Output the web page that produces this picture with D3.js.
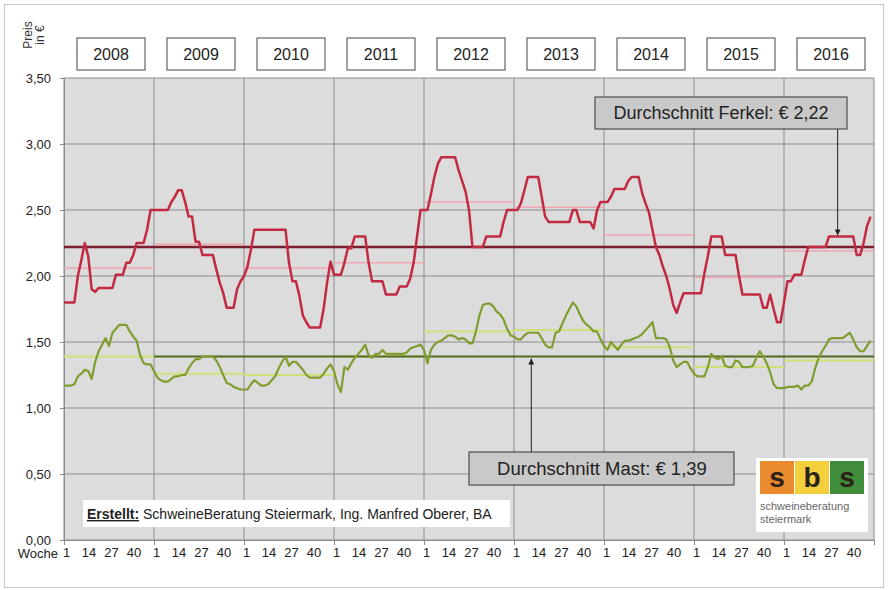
<!DOCTYPE html>
<html>
<head>
<meta charset="utf-8">
<script src="https://cdnjs.cloudflare.com/ajax/libs/d3/7.8.5/d3.min.js"></script>
<style>
  body { margin: 0; background: #fff; }
  svg { font-family: "Liberation Sans", Arial, sans-serif; }
</style>
</head>
<body>
<svg width="888" height="590"></svg>
<script>
// values, one row per year, every 2nd week (weeks 1,3,...,51)
var years = ['2008', '2009', '2010', '2011', '2012', '2013', '2014', '2015', '2016'];
var weekTicks = [1, 14, 27, 40];
var yTicks = [0, 0.5, 1, 1.5, 2, 2.5, 3, 3.5];

var ferkel = [
  [1.80,1.80,1.80,1.80,2.00,2.12,2.25,2.15,1.90,1.88,1.91,1.91,1.91,1.91,1.91,2.01,2.01,2.01,2.10,2.10,2.16,2.25,2.25,2.25,2.35,2.50],
  [2.50,2.50,2.50,2.50,2.50,2.56,2.60,2.65,2.65,2.56,2.45,2.45,2.26,2.26,2.16,2.16,2.16,2.16,2.05,1.95,1.87,1.76,1.76,1.76,1.90,1.96],
  [2.00,2.07,2.20,2.35,2.35,2.35,2.35,2.35,2.35,2.35,2.35,2.35,2.35,2.10,1.96,1.96,1.85,1.70,1.65,1.61,1.61,1.61,1.61,1.75,1.95,2.11],
  [2.01,2.01,2.01,2.10,2.21,2.21,2.30,2.30,2.30,2.30,2.10,1.96,1.96,1.96,1.96,1.86,1.86,1.86,1.86,1.92,1.92,1.92,1.98,2.10,2.30,2.50],
  [2.50,2.50,2.62,2.75,2.85,2.90,2.90,2.90,2.90,2.90,2.80,2.72,2.64,2.50,2.22,2.22,2.22,2.22,2.30,2.30,2.30,2.30,2.30,2.41,2.50,2.50],
  [2.50,2.50,2.55,2.65,2.75,2.75,2.75,2.75,2.60,2.45,2.41,2.41,2.41,2.41,2.41,2.41,2.41,2.50,2.50,2.41,2.41,2.41,2.41,2.36,2.50,2.56],
  [2.56,2.56,2.60,2.66,2.66,2.66,2.66,2.72,2.75,2.75,2.75,2.63,2.55,2.48,2.35,2.22,2.16,2.07,2.00,1.90,1.78,1.72,1.80,1.87,1.87,1.87],
  [1.87,1.87,1.87,2.02,2.15,2.30,2.30,2.30,2.30,2.16,2.16,2.16,2.16,2.00,1.86,1.86,1.86,1.86,1.86,1.86,1.76,1.76,1.86,1.75,1.65,1.65],
  [1.80,1.96,1.96,2.01,2.01,2.01,2.12,2.22,2.22,2.22,2.22,2.22,2.22,2.30,2.30,2.30,2.30,2.30,2.30,2.30,2.30,2.16,2.16,2.25,2.38,2.45]
];

var mast = [
  [1.17,1.17,1.17,1.18,1.24,1.26,1.29,1.28,1.22,1.35,1.43,1.48,1.53,1.47,1.57,1.60,1.63,1.63,1.63,1.58,1.54,1.51,1.40,1.34,1.33,1.33],
  [1.28,1.23,1.21,1.20,1.20,1.22,1.24,1.24,1.25,1.25,1.30,1.34,1.37,1.37,1.39,1.39,1.39,1.39,1.36,1.31,1.25,1.19,1.18,1.16,1.15,1.14],
  [1.14,1.14,1.18,1.21,1.19,1.17,1.17,1.18,1.21,1.24,1.30,1.35,1.39,1.32,1.35,1.35,1.32,1.29,1.25,1.23,1.23,1.23,1.23,1.26,1.30,1.33],
  [1.28,1.18,1.12,1.31,1.29,1.34,1.38,1.41,1.44,1.48,1.40,1.38,1.41,1.41,1.44,1.41,1.41,1.41,1.41,1.41,1.41,1.42,1.45,1.46,1.47,1.48],
  [1.44,1.34,1.44,1.48,1.50,1.51,1.53,1.55,1.55,1.54,1.52,1.53,1.52,1.49,1.49,1.58,1.70,1.78,1.79,1.79,1.77,1.73,1.71,1.67,1.60,1.55],
  [1.54,1.52,1.52,1.55,1.57,1.57,1.57,1.57,1.53,1.48,1.46,1.46,1.57,1.58,1.64,1.70,1.75,1.80,1.77,1.71,1.66,1.63,1.61,1.58,1.58,1.52],
  [1.47,1.44,1.50,1.47,1.44,1.48,1.51,1.51,1.52,1.53,1.54,1.56,1.59,1.62,1.65,1.53,1.53,1.53,1.52,1.46,1.36,1.31,1.33,1.35,1.35,1.30],
  [1.26,1.24,1.24,1.24,1.31,1.41,1.38,1.37,1.39,1.32,1.31,1.31,1.36,1.35,1.31,1.31,1.31,1.32,1.38,1.43,1.39,1.34,1.27,1.18,1.15,1.15],
  [1.15,1.16,1.16,1.16,1.17,1.14,1.17,1.17,1.20,1.30,1.38,1.43,1.47,1.52,1.53,1.53,1.53,1.53,1.55,1.57,1.52,1.46,1.43,1.43,1.47,1.51]
];

var ferkelYearAvg = [2.06, 2.24, 2.06, 2.10, 2.56, 2.52, 2.31, 1.99, 2.19];
var mastYearAvg = [1.39, 1.26, 1.25, 1.39, 1.58, 1.59, 1.46, 1.31, 1.36];
var ferkelAvg = 2.22;
var mastAvg = 1.39;

var weeksPerYear = 52;

var svg = d3.select('svg');

var x = d3.scaleLinear().domain([0, years.length * weeksPerYear]).range([64, 874]);
var y = d3.scaleLinear().domain([0, 3.5]).range([540, 78]);

function flatten(rows) {
  var out = [];
  rows.forEach(function (row, yi) {
    row.forEach(function (v, i) {
      out.push({ week: yi * weeksPerYear + i * 2, value: v });
    });
  });
  return out;
}

// outer frame
svg.append('rect')
  .attr('x', 4.5).attr('y', 4.5)
  .attr('width', 879).attr('height', 583)
  .style('fill', 'none')
  .style('stroke', '#c8c8c8');

// plot background
svg.append('rect')
  .attr('x', x(0)).attr('y', y(3.5))
  .attr('width', x.range()[1] - x(0))
  .attr('height', y(0) - y(3.5))
  .style('fill', '#dcdcdc');

// horizontal grid
svg.append('g')
  .selectAll('line')
  .data(yTicks)
  .join('line')
  .attr('x1', x(0)).attr('x2', x.range()[1])
  .attr('y1', function (d) { return y(d); })
  .attr('y2', function (d) { return y(d); })
  .style('stroke', '#8c8c8c')
  .style('stroke-width', 1);

// vertical year lines
var yearStarts = d3.range(years.length + 1).map(function (i) { return i * weeksPerYear; });
svg.append('g')
  .selectAll('line')
  .data(yearStarts)
  .join('line')
  .attr('x1', function (d) { return x(d); })
  .attr('x2', function (d) { return x(d); })
  .attr('y1', y(3.5)).attr('y2', y(0))
  .style('stroke', '#8c8c8c')
  .style('stroke-width', 1);

// y axis
var yAxis = svg.append('g')
  .attr('transform', 'translate(' + x(0) + ',0)')
  .call(d3.axisLeft(y).tickValues(yTicks).tickSize(4).tickPadding(9)
    .tickFormat(function (d) { return d3.format('.2f')(d).replace('.', ','); }));
yAxis.select('.domain').style('stroke', '#8c8c8c');
yAxis.selectAll('line').style('stroke', '#8c8c8c');
yAxis.selectAll('text').style('font-size', '13px').style('fill', '#222');

// x axis: year tick marks
var xYear = svg.append('g')
  .attr('transform', 'translate(0,' + y(0) + ')')
  .call(d3.axisBottom(x).tickValues(yearStarts).tickSize(5).tickFormat(''));
xYear.select('.domain').style('stroke', '#8c8c8c');
xYear.selectAll('line').style('stroke', '#8c8c8c');

// x axis: week labels
var weekVals = [];
years.forEach(function (yr, i) {
  weekTicks.forEach(function (w) { weekVals.push(i * weeksPerYear + w - 1); });
});
var xWeek = svg.append('g')
  .attr('transform', 'translate(2,' + y(0) + ')')
  .call(d3.axisBottom(x).tickValues(weekVals).tickSize(0).tickPadding(8)
    .tickFormat(function (d) { return (d % weeksPerYear) + 1; }));
xWeek.select('.domain').remove();
xWeek.selectAll('text').style('font-size', '13px').style('fill', '#222');

svg.append('text')
  .attr('x', 58).attr('y', 558)
  .attr('text-anchor', 'end')
  .style('font-size', '13px')
  .style('fill', '#222')
  .text('Woche');

// y label
var yl = svg.append('g').attr('transform', 'translate(32,35) rotate(-90)');
yl.append('text').attr('text-anchor', 'middle').attr('y', 0)
  .style('font-size', '12px').style('fill', '#333').text('Preis');
yl.append('text').attr('text-anchor', 'middle').attr('y', 12)
  .style('font-size', '12px').style('fill', '#333').text('in €');

// year boxes
var yb = svg.append('g')
  .selectAll('g')
  .data(years)
  .join('g')
  .attr('transform', function (d, i) {
    return 'translate(' + (x(i * weeksPerYear + 26) + 2) + ',54)';
  });
yb.append('rect')
  .attr('x', -34).attr('y', -16)
  .attr('width', 68).attr('height', 32)
  .style('fill', '#fff')
  .style('stroke', '#444')
  .style('stroke-width', 1);
yb.append('text')
  .attr('text-anchor', 'middle')
  .attr('y', 6)
  .style('font-size', '16px')
  .style('fill', '#222')
  .text(function (d) { return d; });

// yearly averages (thin light lines)
svg.append('g')
  .selectAll('line')
  .data(ferkelYearAvg)
  .join('line')
  .attr('x1', function (d, i) { return x(i * weeksPerYear); })
  .attr('x2', function (d, i) { return x((i + 1) * weeksPerYear); })
  .attr('y1', function (d) { return y(d); })
  .attr('y2', function (d) { return y(d); })
  .style('stroke', '#f2a6b0')
  .style('stroke-width', 1.5);

svg.append('g')
  .selectAll('line')
  .data(mastYearAvg)
  .join('line')
  .attr('x1', function (d, i) { return x(i * weeksPerYear); })
  .attr('x2', function (d, i) { return x((i + 1) * weeksPerYear); })
  .attr('y1', function (d) { return y(d); })
  .attr('y2', function (d) { return y(d); })
  .style('stroke', '#cfe07a')
  .style('stroke-width', 2);

// overall averages
svg.append('line')
  .attr('x1', x(0)).attr('x2', x.range()[1])
  .attr('y1', y(ferkelAvg)).attr('y2', y(ferkelAvg))
  .style('stroke', '#7a1f2b')
  .style('stroke-width', 2.5);

svg.append('line')
  .attr('x1', x(weeksPerYear)).attr('x2', x.range()[1])
  .attr('y1', y(mastAvg)).attr('y2', y(mastAvg))
  .style('stroke', '#4e6a1e')
  .style('stroke-width', 2);

// price series
var line = d3.line()
  .x(function (d) { return x(d.week); })
  .y(function (d) { return y(d.value); });

svg.append('path')
  .datum(flatten(mast))
  .attr('d', line)
  .style('fill', 'none')
  .style('stroke', '#7f9e2f')
  .style('stroke-width', 2.2)
  .style('stroke-linejoin', 'round');

svg.append('path')
  .datum(flatten(ferkel))
  .attr('d', line)
  .style('fill', 'none')
  .style('stroke', '#c22a42')
  .style('stroke-width', 2.5)
  .style('stroke-linejoin', 'round');

// callouts
svg.append('defs').append('marker')
  .attr('id', 'arr')
  .attr('viewBox', '0 0 10 10')
  .attr('refX', 10).attr('refY', 5)
  .attr('markerWidth', 6).attr('markerHeight', 6)
  .attr('orient', 'auto')
  .append('path')
  .attr('d', 'M0,0L10,5L0,10z')
  .style('fill', '#222');

var fx = x(447);
svg.append('line')
  .attr('x1', fx).attr('x2', fx)
  .attr('y1', 129).attr('y2', y(2.30) - 1)
  .style('stroke', '#222').style('stroke-width', 1)
  .attr('marker-end', 'url(#arr)');
svg.append('rect')
  .attr('x', 595).attr('y', 97)
  .attr('width', 252).attr('height', 32)
  .style('fill', '#c9c9c9')
  .style('stroke', '#333');
svg.append('text')
  .attr('x', 721).attr('y', 119)
  .attr('text-anchor', 'middle')
  .style('font-size', '18px')
  .style('fill', '#222')
  .text('Durchschnitt Ferkel: € 2,22');

var mx = x(270);
svg.append('line')
  .attr('x1', mx).attr('x2', mx)
  .attr('y1', 452).attr('y2', y(mastAvg) + 2)
  .style('stroke', '#222').style('stroke-width', 1)
  .attr('marker-end', 'url(#arr)');
svg.append('rect')
  .attr('x', 469).attr('y', 452)
  .attr('width', 265).attr('height', 33)
  .style('fill', '#c9c9c9')
  .style('stroke', '#333');
svg.append('text')
  .attr('x', 602).attr('y', 475)
  .attr('text-anchor', 'middle')
  .style('font-size', '18.5px')
  .style('fill', '#222')
  .text('Durchschnitt Mast: € 1,39');

// source box
svg.append('rect')
  .attr('x', 83).attr('y', 500)
  .attr('width', 427).attr('height', 27)
  .style('fill', '#fff');
var src = svg.append('text')
  .attr('x', 87).attr('y', 519)
  .style('font-size', '14px')
  .style('fill', '#222');
src.append('tspan')
  .style('font-weight', 'bold')
  .style('text-decoration', 'underline')
  .text('Erstellt:');
src.append('tspan')
  .text(' SchweineBeratung Steiermark, Ing. Manfred Oberer, BA');

// logo
var logo = svg.append('g');
logo.append('rect')
  .attr('x', 756).attr('y', 458)
  .attr('width', 112).attr('height', 74)
  .style('fill', '#fff');
var logoCols = ['#e98a2e', '#f2cf3b', '#3f8c3a'];
var logoChars = ['s', 'b', 's'];
logoChars.forEach(function (c, i) {
  logo.append('rect')
    .attr('x', 760 + i * 35).attr('y', 461)
    .attr('width', 34).attr('height', 33)
    .style('fill', logoCols[i]);
  logo.append('text')
    .attr('x', 777 + i * 35).attr('y', 487)
    .attr('text-anchor', 'middle')
    .style('font-size', '28px')
    .style('font-weight', 'bold')
    .style('fill', '#2b2118')
    .text(c);
});
logo.append('text')
  .attr('x', 760).attr('y', 510)
  .style('font-size', '11px')
  .style('fill', '#666')
  .text('schweineberatung');
logo.append('text')
  .attr('x', 760).attr('y', 523)
  .style('font-size', '11px')
  .style('fill', '#666')
  .text('steiermark');
</script>
</body>
</html>
